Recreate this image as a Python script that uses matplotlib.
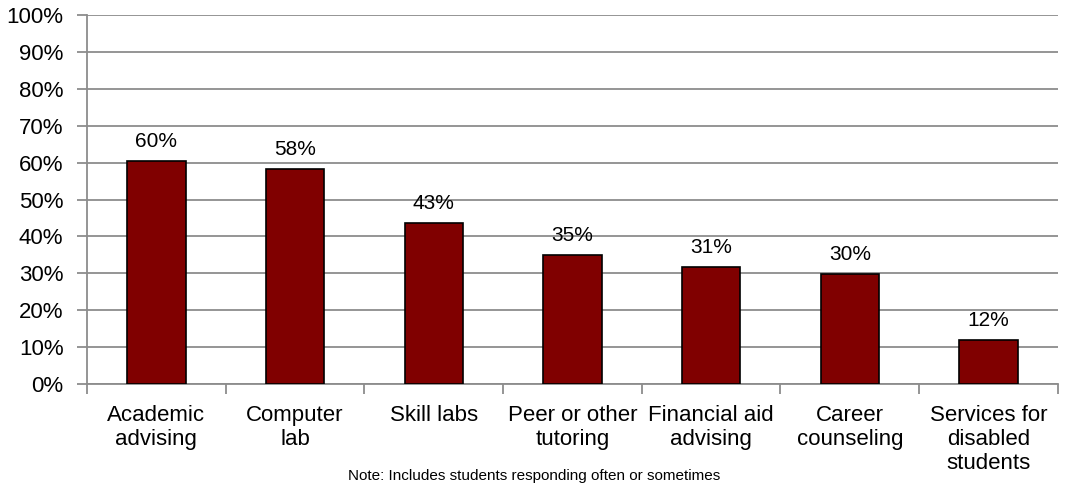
import numpy as np
import matplotlib.pyplot as plt

categories = ['Academic\nadvising', 'Computer\nlab', 'Skill labs', 'Peer or other\ntutoring',
              'Financial aid\nadvising', 'Career\ncounseling', 'Services for\ndisabled\nstudents']
values = [60.5, 58.2, 43.6, 35.1, 31.6, 29.7, 11.9]
labels = ['60%', '58%', '43%', '35%', '31%', '30%', '12%']

plt.rcParams['font.family'] = ['Liberation Sans', 'DejaVu Sans']

fig = plt.figure(figsize=(10.68, 4.88), dpi=100)
ax = fig.add_axes([0.0815, 0.213, 0.909, 0.756])

x = np.arange(len(categories))
grid_col = '#8c8c8c'

ax.bar(x, values, width=0.42, color='#800000', edgecolor='black', linewidth=1.2, zorder=3)
for xi, v, lab in zip(x, values, labels):
    ax.text(xi, v + 3.8, lab, ha='center', va='baseline', fontsize=15)

ax.set_ylim(0, 100)
ax.set_xlim(-0.5, len(categories) - 0.5)
ax.set_yticks(np.arange(0, 101, 10))
ax.set_yticklabels([f'{t}%' for t in range(0, 101, 10)], fontsize=16)
ax.yaxis.grid(True, color=grid_col, linewidth=1.3, zorder=0)

ax.set_xticks(x)
ax.set_xticklabels(categories, fontsize=16, linespacing=1.2)
ax.set_xticks(np.arange(-0.5, len(categories)), minor=True)
ax.tick_params(axis='x', which='major', length=0, pad=15)
ax.tick_params(axis='x', which='minor', length=7, color=grid_col, width=1.3)
ax.tick_params(axis='y', length=7, color=grid_col, width=1.3, pad=10)

for s in ['top', 'right']:
    ax.spines[s].set_visible(False)
for s in ['left', 'bottom']:
    ax.spines[s].set_color(grid_col)
    ax.spines[s].set_linewidth(1.3)

fig.text(0.5, 0.016, 'Note: Includes students responding often or sometimes', ha='center',
         va='baseline', fontsize=11)

fig.savefig('out.png', dpi=100)
